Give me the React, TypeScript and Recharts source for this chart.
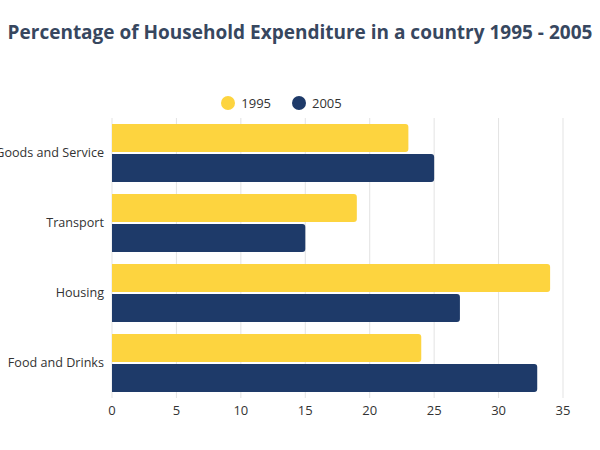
import { Bar, BarChart, CartesianGrid, Legend, XAxis, YAxis } from "recharts";

const categories = ["Goods and Service", "Transport", "Housing", "Food and Drinks"];
const values1995 = [23, 19, 34, 24];
const values2005 = [25, 15, 27, 33];
const xTicks = [0, 5, 10, 15, 20, 25, 30, 35];

const YELLOW = "#fdd43f";
const NAVY = "#1e3a69";

const data = categories.map((name, i) => ({
  name,
  y1995: values1995[i],
  y2005: values2005[i],
}));

const LegendContent = () => (
  <div style={{ display: "flex", justifyContent: "center", gap: 21, fontSize: 13, color: "#333" }}>
    {[
      { label: "1995", color: YELLOW },
      { label: "2005", color: NAVY },
    ].map((item) => (
      <div key={item.label} style={{ display: "flex", alignItems: "center" }}>
        <span
          style={{
            width: 14,
            height: 14,
            borderRadius: 7,
            background: item.color,
            display: "inline-block",
            marginRight: 6,
          }}
        />
        {item.label}
      </div>
    ))}
  </div>
);

// single-line category label (recharts would wrap the long one)
const CategoryTick = ({ x, y, payload }: any) => (
  <text x={x} y={y} dy="0.35em" textAnchor="end" fill="#333" fontSize={12.6}>
    {payload.value}
  </text>
);

const App = () => {
  return (
    <div
      style={{
        position: "absolute",
        left: 0,
        top: 0,
        width: 600,
        height: 450,
        background: "#fff",
        fontFamily: "'Open Sans', sans-serif",
      }}
    >
      <div
        style={{
          position: "absolute",
          top: 19,
          left: 0,
          width: 600,
          textAlign: "center",
          fontSize: 19,
          fontWeight: 700,
          color: "#37475f",
          whiteSpace: "nowrap",
        }}
      >
        Percentage of Household Expenditure in a country 1995 - 2005
      </div>
      <BarChart
        width={600}
        height={450}
        data={data}
        layout="vertical"
        margin={{ top: 94, right: 37, bottom: 22, left: 0 }}
        barGap={2}
        barCategoryGap={6}
      >
        <CartesianGrid horizontal={false} stroke="#e3e3e3" />
        <XAxis
          type="number"
          domain={[0, 35]}
          ticks={xTicks}
          axisLine={false}
          tickLine={false}
          tickSize={0}
          tickMargin={8}
          height={30}
          tick={{ fill: "#333", fontSize: 13 }}
        />
        <YAxis
          type="category"
          dataKey="name"
          width={112}
          axisLine={false}
          tickLine={false}
          tickSize={0}
          tickMargin={8}
          tick={<CategoryTick />}
        />
        <Legend verticalAlign="top" height={24} content={<LegendContent />} />
        <Bar dataKey="y1995" name="1995" fill={YELLOW} radius={[0, 3, 3, 0]} isAnimationActive={false} />
        <Bar dataKey="y2005" name="2005" fill={NAVY} radius={[0, 3, 3, 0]} isAnimationActive={false} />
      </BarChart>
    </div>
  );
};

export default App;
